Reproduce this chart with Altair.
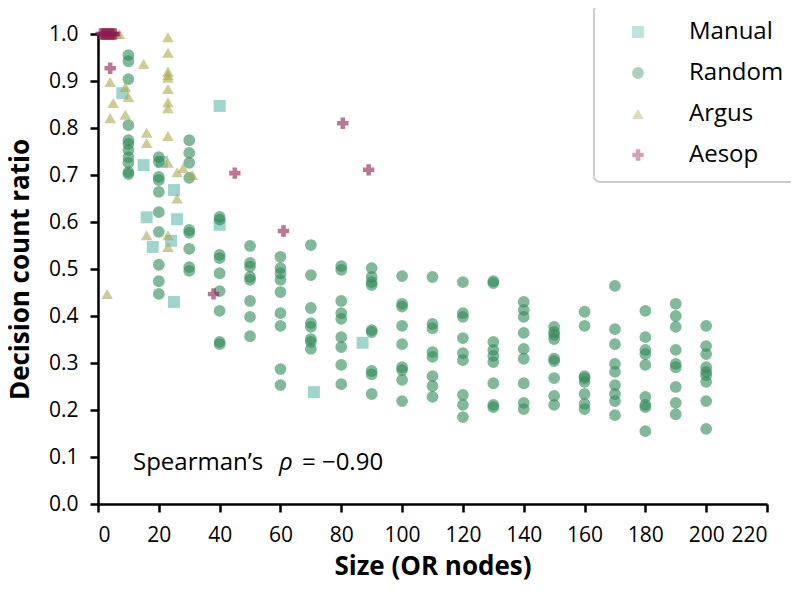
import altair as alt
import pandas as pd

# ---------------- data ----------------
methods = ["Manual", "Random", "Argus", "Aesop"]

manual_x = [8, 15, 21, 25, 16, 26, 18, 24, 25, 40, 40, 71, 87]
manual_y = [0.874, 0.721, 0.728, 0.668, 0.610, 0.606, 0.547, 0.560, 0.430, 0.847, 0.594, 0.238, 0.343]

random_cols = {
    10: [0.955, 0.942, 0.904, 0.806, 0.774, 0.766, 0.753, 0.738, 0.726, 0.706, 0.702],
    20: [0.738, 0.728, 0.696, 0.689, 0.664, 0.621, 0.579, 0.509, 0.474, 0.447],
    30: [0.774, 0.747, 0.726, 0.694, 0.583, 0.577, 0.543, 0.504, 0.496],
    40: [0.611, 0.605, 0.530, 0.523, 0.491, 0.453, 0.411, 0.345, 0.340],
    50: [0.549, 0.513, 0.505, 0.483, 0.477, 0.432, 0.398, 0.357],
    60: [0.526, 0.502, 0.491, 0.477, 0.451, 0.406, 0.379, 0.287, 0.253],
    70: [0.551, 0.487, 0.417, 0.385, 0.377, 0.351, 0.345, 0.330],
    80: [0.506, 0.498, 0.432, 0.406, 0.394, 0.355, 0.334, 0.296, 0.255],
    90: [0.502, 0.483, 0.472, 0.466, 0.370, 0.366, 0.283, 0.276, 0.234],
    100: [0.485, 0.426, 0.420, 0.379, 0.340, 0.291, 0.285, 0.264, 0.219],
    110: [0.483, 0.383, 0.374, 0.323, 0.313, 0.272, 0.251, 0.228],
    120: [0.472, 0.406, 0.398, 0.353, 0.321, 0.306, 0.232, 0.211, 0.185],
    130: [0.474, 0.470, 0.345, 0.328, 0.315, 0.302, 0.257, 0.211, 0.206],
    140: [0.430, 0.413, 0.398, 0.364, 0.330, 0.309, 0.257, 0.215, 0.202],
    150: [0.377, 0.366, 0.360, 0.351, 0.309, 0.304, 0.268, 0.230, 0.211],
    160: [0.409, 0.379, 0.272, 0.268, 0.260, 0.234, 0.213, 0.202],
    170: [0.464, 0.372, 0.340, 0.298, 0.281, 0.253, 0.234, 0.219, 0.189],
    180: [0.411, 0.355, 0.328, 0.319, 0.296, 0.228, 0.211, 0.206, 0.155],
    190: [0.426, 0.400, 0.377, 0.328, 0.298, 0.291, 0.249, 0.215, 0.191],
    200: [0.379, 0.336, 0.319, 0.291, 0.281, 0.274, 0.260, 0.219, 0.160],
}

argus_x = [2, 3, 4, 5, 6, 7, 23, 23, 15, 23, 23, 23, 4, 9, 23, 10, 5, 23, 23, 4, 9,
           16, 23, 16, 23, 26, 28, 31, 26, 16, 23, 23, 3]
argus_y = [1.0, 1.0, 1.0, 1.0, 1.0, 1.0, 0.993, 0.960, 0.936, 0.920, 0.913, 0.907, 0.898,
           0.887, 0.883, 0.866, 0.853, 0.855, 0.842, 0.821, 0.828, 0.790, 0.783, 0.768,
           0.726, 0.706, 0.715, 0.700, 0.650, 0.572, 0.572, 0.547, 0.447]

aesop_x = [1, 1.5, 2, 2.5, 3, 3.5, 4, 4.5, 5, 5.5, 4, 80.5, 45, 89, 61, 38]
aesop_y = [1.0, 1.0, 1.0, 1.0, 1.0, 1.0, 1.0, 1.0, 1.0, 1.0, 0.927, 0.810, 0.704, 0.711, 0.581, 0.447]

x_ticks = list(range(0, 221, 20))
y_ticks = [round(i * 0.1, 1) for i in range(11)]

# ---------------- build table ----------------
rows = []
for x, y in zip(manual_x, manual_y):
    rows.append({"x": x, "y": y, "method": "Manual"})
for x, ys in random_cols.items():
    for y in ys:
        rows.append({"x": x, "y": y, "method": "Random"})
for x, y in zip(argus_x, argus_y):
    rows.append({"x": x, "y": y, "method": "Argus"})
for x, y in zip(aesop_x, aesop_y):
    rows.append({"x": x, "y": y, "method": "Aesop"})
df = pd.DataFrame(rows)
df["order"] = df["method"].map({m: i for i, m in enumerate(methods)})

FONT = "Open Sans"

xscale = alt.Scale(domain=[0, 220], nice=False, zero=True)
yscale = alt.Scale(domain=[0, 1.0], nice=False, zero=True)

points = alt.Chart(df).mark_point(filled=True, opacity=0.6, strokeWidth=0).encode(
    x=alt.X("x:Q", scale=xscale,
            axis=alt.Axis(values=x_ticks, title="Size (OR nodes)", format="d")),
    y=alt.Y("y:Q", scale=yscale,
            axis=alt.Axis(values=y_ticks, title="Decision count ratio", format=".1f")),
    color=alt.Color("method:N", scale=alt.Scale(domain=methods,
                    range=["#61b9ac", "#2e8b57", "#aca850", "#8c1c50"]),
                    legend=alt.Legend(title=None)),
    shape=alt.Shape("method:N", scale=alt.Scale(domain=methods,
                    range=["square", "circle", "triangle-up", "cross"]),
                    legend=alt.Legend(title=None)),
    size=alt.Size("method:N", scale=alt.Scale(domain=methods, range=[144, 130, 190, 100]),
                  legend=None),
    order=alt.Order("order:Q"),
)

note = pd.DataFrame({"x": [11.5], "y": [0.072]})
t1 = alt.Chart(note).mark_text(align="left", baseline="alphabetic", font=FONT,
                               fontSize=24, color="black").encode(
    x="x:Q", y="y:Q", text=alt.value("Spearman’s"))
t2 = alt.Chart(note).mark_text(align="left", baseline="alphabetic", font=FONT,
                               fontSize=24, fontStyle="italic", color="black", dx=146).encode(
    x="x:Q", y="y:Q", text=alt.value("ρ"))
t3 = alt.Chart(note).mark_text(align="left", baseline="alphabetic", font=FONT,
                               fontSize=24, color="black", dx=169).encode(
    x="x:Q", y="y:Q", text=alt.value("= −0.90"))

chart = alt.layer(points, t1, t2, t3).properties(
    width=669, height=470,
    autosize=alt.AutoSizeParams(type="none"),
    padding={"left": 90, "top": 26, "right": 24, "bottom": 80},
).configure_view(stroke=None).configure_axis(
    labelFont=FONT, labelFontSize=21, labelColor="black",
    titleFont=FONT, titleFontSize=26, titleFontWeight="bold", titleColor="black",
    domainColor="black", domainWidth=2.5, tickColor="black", tickWidth=2.5,
    tickSize=8, grid=False,
).configure_axisX(labelPadding=12, titlePadding=8).configure_axisY(
    labelPadding=12, titlePadding=15
).configure_legend(
    orient="none", legendX=496, legendY=-29, padding=15, rowPadding=17,
    symbolOffset=17, labelOffset=39, labelFont=FONT, labelFontSize=24,
    labelColor="black", strokeColor="#cccccc", strokeWidth=2, cornerRadius=6,
    fillColor="white", symbolOpacity=0.4, symbolSize=150, symbolStrokeWidth=0,
)

chart.save("out.html", embed_options={"renderer": "svg", "actions": False})
